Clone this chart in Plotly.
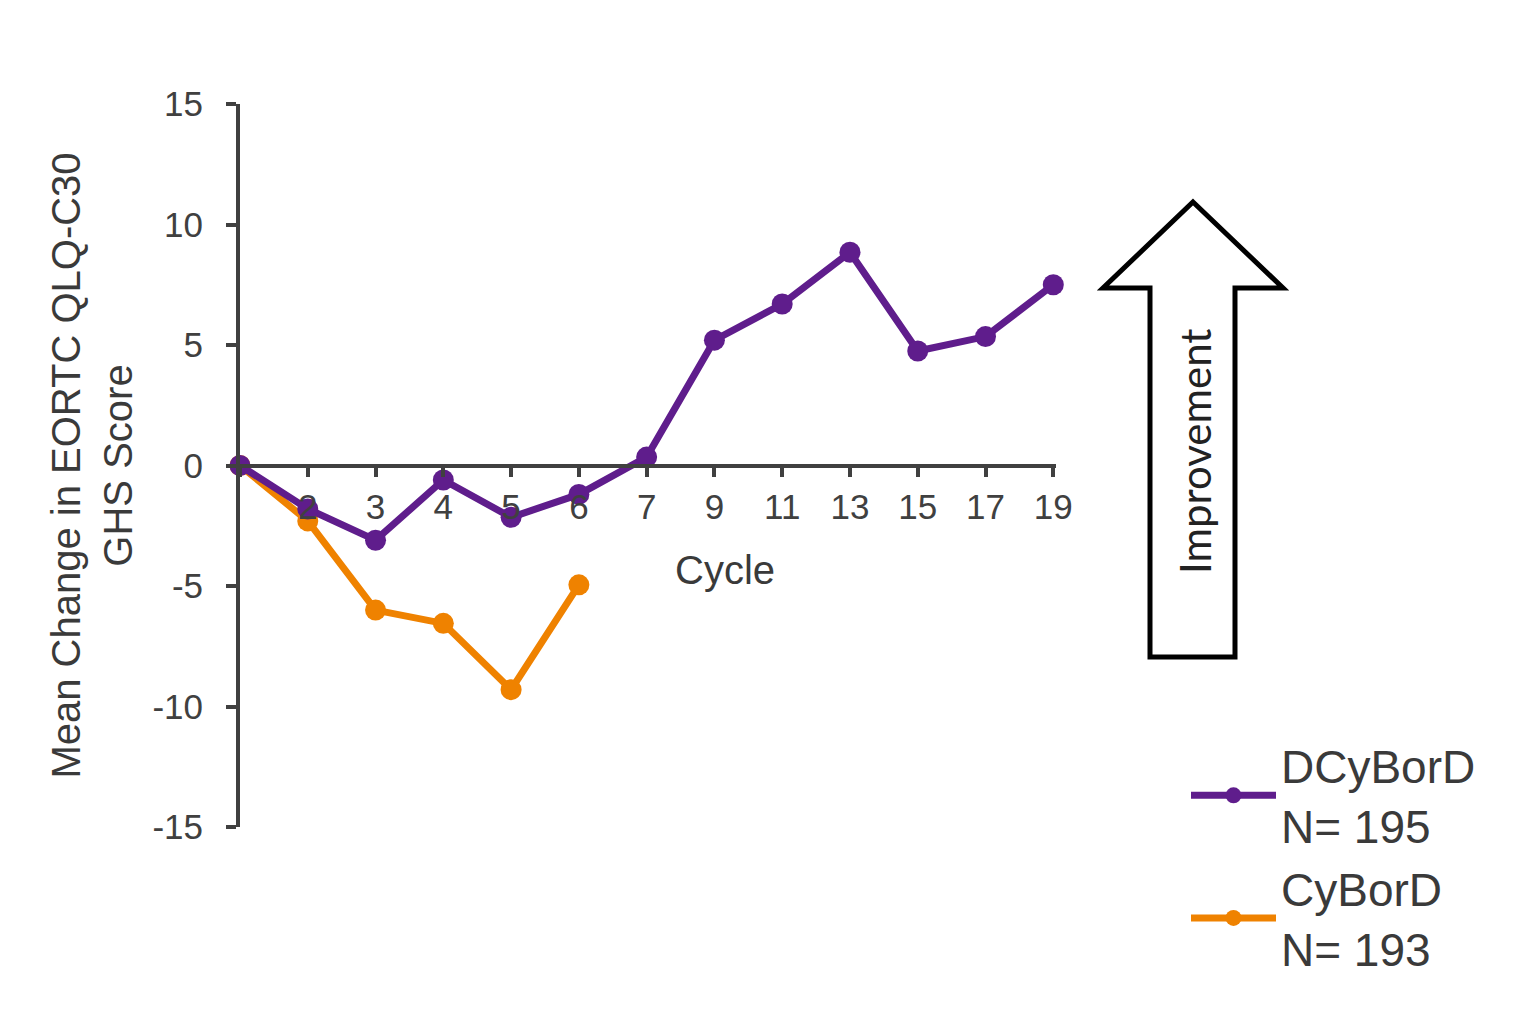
import plotly.graph_objects as go

cycles = ["Baseline", "2", "3", "4", "5", "6", "7", "9", "11", "13", "15", "17", "19"]
tick_labels = ["", "2", "3", "4", "5", "6", "7", "9", "11", "13", "15", "17", "19"]
dcybord = [0, -1.8, -3.1, -0.6, -2.15, -1.2, 0.35, 5.2, 6.7, 8.85, 4.75, 5.35, 7.5]
cybord_cycles = ["Baseline", "2", "3", "4", "5", "6"]
cybord = [0, -2.3, -6.0, -6.55, -9.3, -4.95]
y_ticks = [-15, -10, -5, 0, 5, 10, 15]
y_tick_text = ["-15", "-10", "-5", "0", "5", "10", "15"]

PURPLE = "#5f1d8c"
ORANGE = "#ef8200"
AXIS = "#404040"
TEXT = "#3a3a3a"
FONT = "Liberation Sans, Arial, sans-serif"

# page has an 8px body margin
OFF = 8
WIN_W, WIN_H = 1530, 1022
X0, X1, Y0, Y1 = 240, 1056, 104, 827  # plot area in window pixels
W, H = WIN_W - OFF, WIN_H - OFF
L, R, T, B = X0 - OFF, WIN_W - X1, Y0 - OFF, WIN_H - Y1
PW, PH = X1 - X0, Y1 - Y0


def px(x, y):
    return (x - X0) / PW, (Y1 - y) / PH


fig = go.Figure()
fig.add_trace(go.Scatter(
    x=cybord_cycles, y=cybord, name="CyBorD<br>N= 193", mode="lines+markers",
    line=dict(color=ORANGE, width=7), marker=dict(size=21, color=ORANGE),
    cliponaxis=False,
))
fig.add_trace(go.Scatter(
    x=cycles, y=dcybord, name="DCyBorD<br>N= 195", mode="lines+markers",
    line=dict(color=PURPLE, width=7), marker=dict(size=21, color=PURPLE),
    cliponaxis=False,
))

# block arrow
pts = [(1193, 202), (1283, 288), (1235, 288), (1235, 657), (1150, 657), (1150, 288), (1103, 288)]
path = "M " + " L ".join(f"{px(a, b)[0]:.5f},{px(a, b)[1]:.5f}" for a, b in pts) + " Z"
fig.add_shape(type="path", path=path, xref="paper", yref="paper",
              line=dict(color="black", width=5), fillcolor="white", layer="above")

ix, iy = px(1195, 452)
fig.add_annotation(text="Improvement", x=ix, y=iy, xref="paper", yref="paper",
                   textangle=-90, showarrow=False, xanchor="center", yanchor="middle",
                   font=dict(family="Lato, Open Sans, sans-serif", size=42, color="#222222"))

cx, cy = px(725, 570)
fig.add_annotation(text="Cycle", x=cx, y=cy, xref="paper", yref="paper",
                   showarrow=False, xanchor="center", yanchor="middle",
                   font=dict(family=FONT, size=40, color=TEXT))

lx, ly = px(1186, 729)

fig.update_layout(
    width=W, height=H,
    margin=dict(l=L, r=R, t=T, b=B),
    plot_bgcolor="white", paper_bgcolor="white",
    font=dict(family=FONT, color=TEXT),
    showlegend=True,
    legend=dict(x=lx, y=ly, xanchor="left", yanchor="top", traceorder="reversed",
                font=dict(family=FONT, size=46, color=TEXT), itemwidth=85,
                bgcolor="rgba(0,0,0,0)", valign="middle"),
    xaxis=dict(
        type="category", categoryorder="array", categoryarray=cycles,
        range=[0, 12.04], anchor="free", position=0.5,
        showline=True, linecolor=AXIS, linewidth=4,
        ticks="outside", ticklen=9, tickwidth=4, tickcolor=AXIS,
        tickmode="array", tickvals=cycles, ticktext=tick_labels,
        tickfont=dict(family=FONT, size=35, color=AXIS),
        showgrid=False, zeroline=False,
    ),
    yaxis=dict(
        range=[-15, 15], tickmode="array", tickvals=y_ticks, ticktext=y_tick_text,
        showline=True, linecolor=AXIS, linewidth=4,
        ticks="outside", ticklen=10, tickwidth=4, tickcolor=AXIS,
        tickfont=dict(family=FONT, size=35, color=AXIS),
        ticklabelstandoff=16,
        showgrid=False, zeroline=False,
        title=dict(text="Mean Change in EORTC QLQ-C30<br>GHS Score",
                   font=dict(family=FONT, size=40, color=TEXT), standoff=8),
    ),
)

fig.write_html("out.html")
